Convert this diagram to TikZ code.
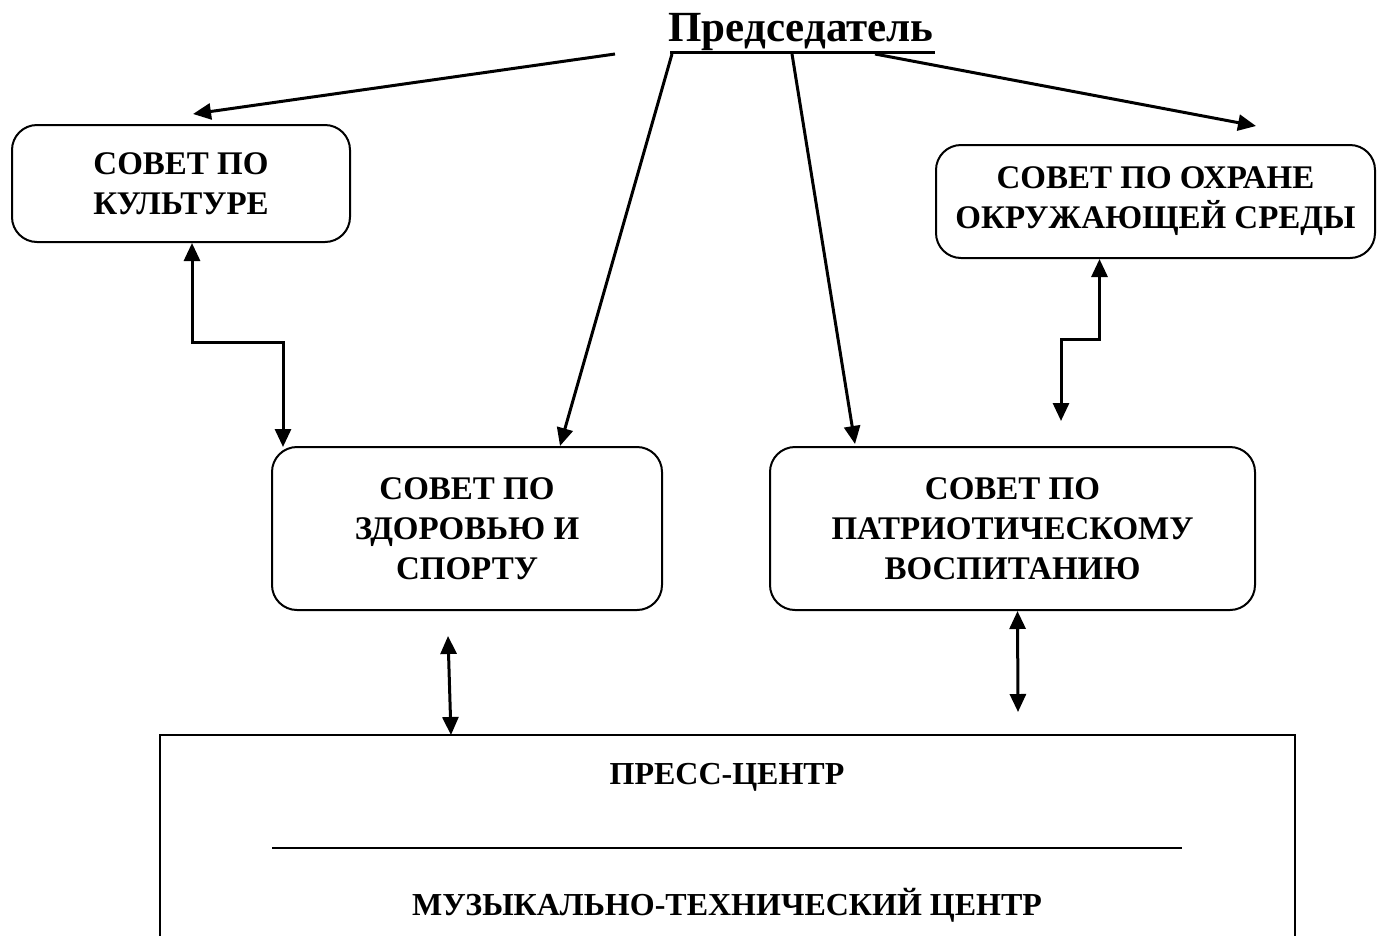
\documentclass[tikz,border=0pt]{standalone}
\usepackage{fontspec}
\setmainfont{Liberation Serif}
\usetikzlibrary{arrows.meta}

\begin{document}
\begin{tikzpicture}[x=1pt,y=-1pt,
        council/.style={draw,line width=2pt,rounded corners=25pt,align=center,
          font=\bfseries\fontsize{33}{40}\selectfont,inner sep=0pt},
        link/.style={line width=3pt,-{Triangle[width=16pt,length=18pt]}},
        twoway/.style={line width=3pt,{Triangle[width=16pt,length=18pt]}-{Triangle[width=16pt,length=18pt]}},
        label/.style={font=\bfseries\fontsize{32}{40}\selectfont}]
        \useasboundingbox (0,0) rectangle (1383,935);

        \node[font=\bfseries\fontsize{43}{50}\selectfont,inner sep=0pt,anchor=base] (chair) at (801,41) {Председатель};
        \draw[line width=3pt] (670,52) -- (935,52);

        \node[council,minimum width=338,minimum height=117] (culture) at (181,183.5) {СОВЕТ ПО\\КУЛЬТУРЕ};
        \node[council,minimum width=439,minimum height=113] (ecology) at (1155.5,201.5) {СОВЕТ ПО ОХРАНЕ\\ОКРУЖАЮЩЕЙ СРЕДЫ};
        \node[council,minimum width=390,minimum height=163] (health) at (467,528.5) {СОВЕТ ПО\\ЗДОРОВЬЮ И\\СПОРТУ};
        \node[council,minimum width=485,minimum height=163] (patriot) at (1012.5,528.5) {СОВЕТ ПО\\ПАТРИОТИЧЕСКОМУ\\ВОСПИТАНИЮ};

        \draw[line width=2pt] (160,960) -- (160,735) -- (1295,735) -- (1295,960);
        \node[label] (press) at (727,777) {ПРЕСС-ЦЕНТР};
        \draw[line width=2pt] (272,848) -- (1182,848);
        \node[label] (music) at (727,905) {МУЗЫКАЛЬНО-ТЕХНИЧЕСКИЙ ЦЕНТР};

        \coordinate (c1) at (615,54);
        \coordinate (c2) at (672,54);
        \coordinate (c3) at (792,54);
        \coordinate (c4) at (875,54);
        \coordinate (t1) at (193,114);
        \coordinate (t4) at (1256,126);
        \draw[link] (c1) -- (t1);
        \draw[link] (c2) -- (560,446);
        \draw[link] (c3) -- (855,444);
        \draw[link] (c4) -- (t4);

        \draw[twoway] ([xshift=11pt]culture.south) |- (283,342) -- (283,447);
        \draw[twoway] ([xshift=-56pt]ecology.south) |- (1061,339) -- (1061,421);
        \draw[twoway] (448,636) -- (451,735);
        \draw[twoway] ([xshift=5pt]patriot.south) -- (1018,712);

      \end{tikzpicture}
\end{document}
